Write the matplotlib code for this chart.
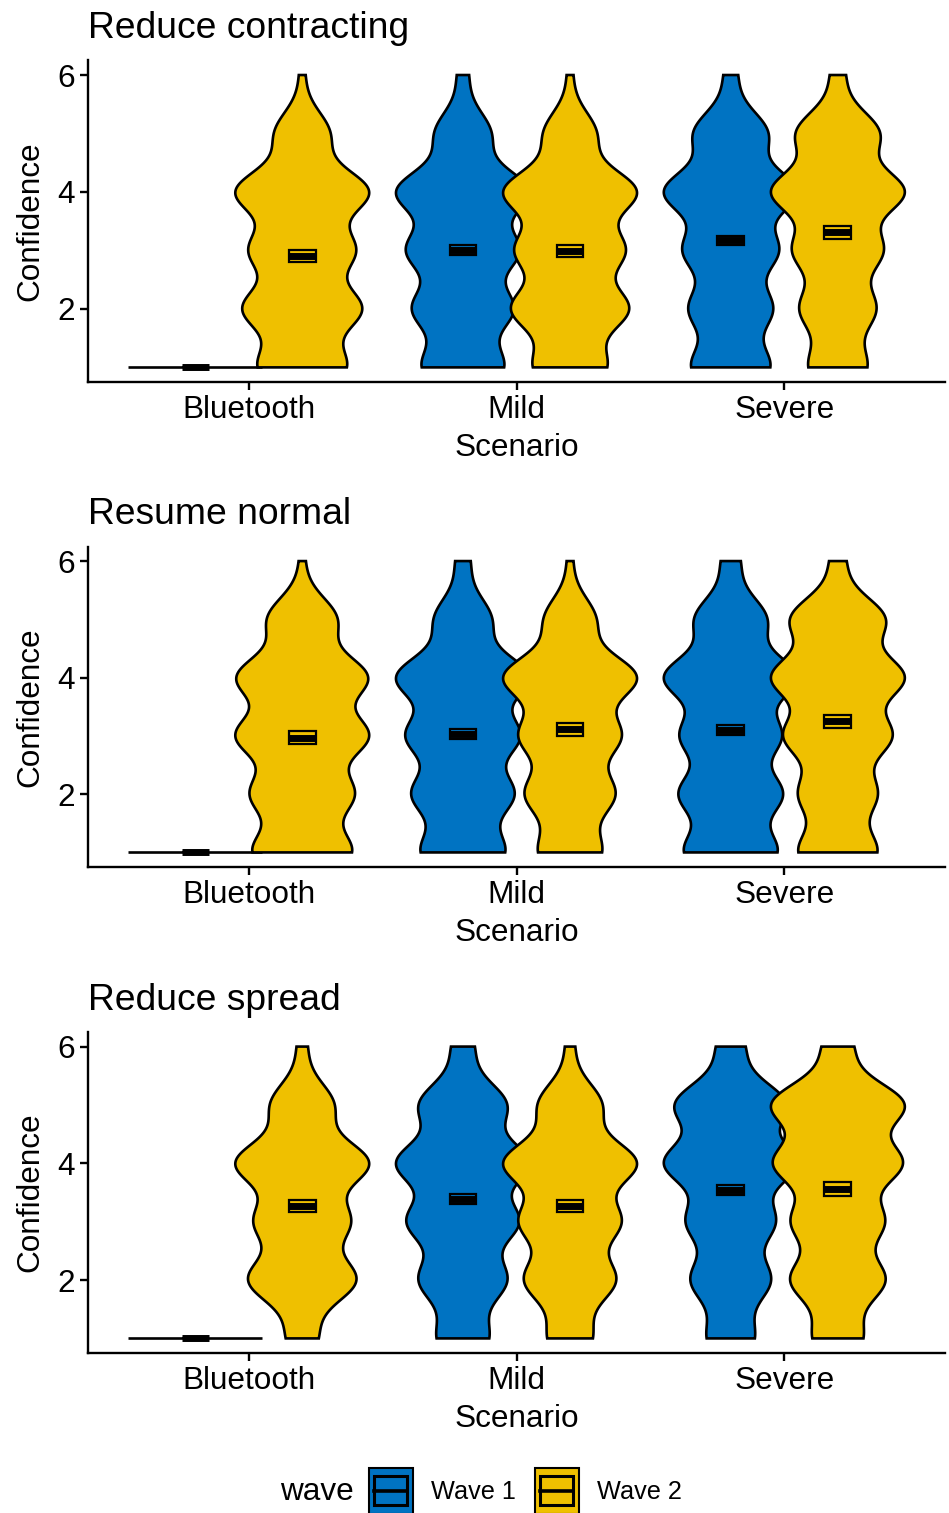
import numpy as np
import matplotlib.pyplot as plt
from matplotlib.patches import Rectangle

plt.rcParams['font.family'] = ['Liberation Sans', 'DejaVu Sans']

# Panels, categories and groups
panels = ['Reduce contracting', 'Resume normal', 'Reduce spread']
scenarios = ['Bluetooth', 'Mild', 'Severe']
waves = ['Wave 1', 'Wave 2']
levels = [1, 2, 3, 4, 5, 6]
colors = ['#0073C2', '#EFC000']

# relative frequency of answers 1..6, per scenario
contracting_w1 = [[100, 0, 0, 0, 0, 0], [74, 90, 100, 120, 50, 10], [72, 75, 85, 121, 67, 12]]
contracting_w2 = [[81, 108, 95, 122, 50, 5], [66, 105, 97, 120, 47, 5], [53, 68, 80, 120, 75, 13]]
normal_w1 = [[100, 0, 0, 0, 0, 0], [76, 91, 101, 120, 51, 13], [85, 93, 90, 121, 65, 17]]
normal_w2 = [[92, 94, 121, 120, 64, 5], [57, 80, 90, 120, 46, 5], [72, 70, 97, 120, 86, 14]]
spread_w1 = [[100, 0, 0, 0, 0, 0], [47, 79, 100, 120, 79, 20], [43, 72, 79, 120, 101, 25]]
spread_w2 = [[28, 98, 85, 121, 57, 9], [40, 82, 90, 120, 57, 8], [45, 85, 82, 115, 120, 27]]

# mean and standard error per scenario
contracting_mean_w1 = [1.00, 3.01, 3.17]
contracting_mean_w2 = [2.91, 2.99, 3.31]
normal_mean_w1 = [1.00, 3.04, 3.10]
normal_mean_w2 = [2.97, 3.11, 3.25]
spread_mean_w1 = [1.00, 3.39, 3.54]
spread_mean_w2 = [3.27, 3.27, 3.56]
contracting_se_w1 = [0.0, 0.085, 0.085]
contracting_se_w2 = [0.105, 0.11, 0.115]
normal_se_w1 = [0.0, 0.085, 0.085]
normal_se_w2 = [0.11, 0.11, 0.115]
spread_se_w1 = [0.0, 0.08, 0.085]
spread_se_w2 = [0.105, 0.11, 0.115]

freqs = [(contracting_w1, contracting_w2), (normal_w1, normal_w2), (spread_w1, spread_w2)]
means = [(contracting_mean_w1, contracting_mean_w2), (normal_mean_w1, normal_mean_w2),
         (spread_mean_w1, spread_mean_w2)]
ses = [(contracting_se_w1, contracting_se_w2), (normal_se_w1, normal_se_w2),
       (spread_se_w1, spread_se_w2)]

bw = 0.38
half_max = 0.25
dodge = 0.2
box_w = 0.1
base = 22.7

W, H = 949, 1513
fig = plt.figure(figsize=(W / 100, H / 100), dpi=100)

# axes boxes in pixels (left, top, right, bottom)
boxes = [(88, 60.4, 945, 382), (88, 546.5, 945, 867), (88, 1032, 945, 1353)]

yy = np.linspace(1, 6, 600)
for p, (l, t, r, b) in enumerate(boxes):
    ax = fig.add_axes([l / W, 1 - b / H, (r - l) / W, (b - t) / H])
    for wi in range(2):
        for si, sc in enumerate(scenarios):
            c = si + 1 + (wi - 0.5) * 2 * dodge
            f = np.array(freqs[p][wi][si], dtype=float)
            if np.count_nonzero(f) == 1:
                ax.plot([c - half_max, c + half_max], [levels[int(np.argmax(f))]] * 2,
                        color='black', lw=1.9, solid_capstyle='butt', zorder=2 + wi)
            else:
                dens = sum(fk * np.exp(-(yy - k) ** 2 / (2 * bw ** 2)) for k, fk in zip(levels, f))
                hw = dens / dens.max() * half_max
                ax.fill(np.concatenate([c - hw, (c + hw)[::-1]]), np.concatenate([yy, yy[::-1]]),
                        facecolor=colors[wi], edgecolor='black', lw=1.9, zorder=2 + wi)
    # mean +/- se crossbars (middle line fattened)
    for wi in range(2):
        for si in range(3):
            c = si + 1 + (wi - 0.5) * 2 * dodge
            m = means[p][wi][si]
            s = ses[p][wi][si]
            ax.add_patch(Rectangle((c - box_w / 2, m - s), box_w, 2 * s, facecolor=colors[wi],
                                   edgecolor='black', lw=1.6, zorder=5 + wi))
            ax.plot([c - box_w / 2, c + box_w / 2], [m, m], color='black', lw=5.0,
                    solid_capstyle='butt', zorder=5.5 + wi)

    ax.set_xlim(0.4, 3.6)
    ax.set_ylim(0.75, 6.25)
    ax.set_xticks([1, 2, 3])
    ax.set_xticklabels(scenarios)
    ax.set_yticks([2, 4, 6])
    for side in ['top', 'right']:
        ax.spines[side].set_visible(False)
    for side in ['left', 'bottom']:
        ax.spines[side].set_linewidth(1.7)
    ax.tick_params(length=5.5, width=1.7, labelsize=base, pad=4, colors='black')
    ax.set_xlabel('Scenario', fontsize=base)
    ax.xaxis.set_label_coords(0.5, -0.158)
    ax.set_ylabel('Confidence', fontsize=base)
    ax.yaxis.set_label_coords(-0.05, 0.5)
    ax.text(0, 1 + 22.4 / (b - t), panels[p], transform=ax.transAxes,
            ha='left', va='baseline', fontsize=26.8)

# legend drawn in pixel coordinates
lg = fig.add_axes([0, 0, 1, 1], zorder=-1)
lg.set_xlim(0, W)
lg.set_ylim(H, 0)
lg.axis('off')
lg.text(280, 1492, 'wave', fontsize=base, ha='left', va='center')
for wi, (kx, tx) in enumerate([(369, 431), (535, 597)]):
    lg.add_patch(Rectangle((kx, 1468), 44, 46, facecolor=colors[wi], edgecolor='black', lw=1.5))
    lg.add_patch(Rectangle((kx + 5.5, 1476), 33, 29, facecolor=colors[wi], edgecolor='black', lw=2.2))
    lg.plot([kx + 5.5, kx + 38.5], [1490.5, 1490.5], color='black', lw=2.6)
    lg.text(tx, 1492, waves[wi], fontsize=18.2, ha='left', va='center')

fig.savefig('out.png', dpi=100)
